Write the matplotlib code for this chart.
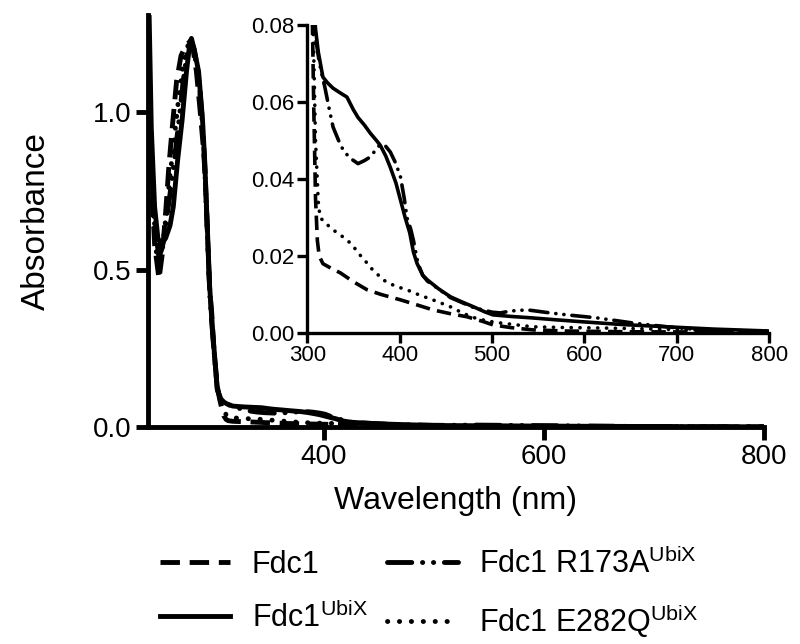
import matplotlib
matplotlib.use("Agg")
import matplotlib.pyplot as plt
import numpy as np

plt.rcParams['font.family'] = ['Liberation Sans', 'DejaVu Sans']
plt.rcParams['mathtext.fontset'] = 'custom'
plt.rcParams['mathtext.rm'] = 'Liberation Sans'
plt.rcParams['mathtext.it'] = 'Liberation Sans'

# ---------------- data ----------------
labels = ['Fdc1', r'Fdc1$^{\mathrm{UbiX}}$', r'Fdc1 R173A$^{\mathrm{UbiX}}$', r'Fdc1 E282Q$^{\mathrm{UbiX}}$']

wl_fdc1 = [240, 243, 246, 250, 253, 256, 259, 262, 266, 270, 274, 278, 281, 284, 287, 290, 292, 294, 296, 298,
           300, 303, 305, 307, 309, 311, 313, 317, 326, 336, 350, 365, 380, 401, 420, 436, 455, 473, 490, 501,
           520, 544, 580, 650, 800]
ab_fdc1 = [1.10, 0.80, 0.58, 0.47, 0.55, 0.68, 0.83, 0.95, 1.10, 1.18, 1.21, 1.225, 1.20, 1.13, 1.02, 0.90, 0.80,
           0.62, 0.44, 0.36, 0.24, 0.13, 0.09, 0.06, 0.035, 0.024, 0.020, 0.018, 0.0168, 0.0156, 0.0133, 0.0112,
           0.0100, 0.0086, 0.0072, 0.0060, 0.0050, 0.0042, 0.0030, 0.0021, 0.0014, 0.0008, 0.0005, 0.0003, 0.0002]

wl_ubix = [240, 243, 246, 249, 252, 256, 260, 263, 267, 271, 275, 278, 279.5, 282, 286, 289.5, 291.5, 294, 296,
           298, 300, 303, 306, 309, 312, 317, 322, 328, 335, 343, 350, 355, 362, 368, 375, 379, 385, 390, 396,
           401, 406, 411, 415, 419, 425, 430, 442, 455, 468, 480, 492, 501, 520, 544, 570, 598, 640, 689, 740, 800]
ab_ubix = [1.50, 0.95, 0.70, 0.60, 0.58, 0.60, 0.64, 0.70, 0.85, 0.975, 1.13, 1.22, 1.235, 1.20, 1.13, 0.98, 0.85,
           0.63, 0.45, 0.34, 0.25, 0.12, 0.09, 0.079, 0.073, 0.0665, 0.0650, 0.0636, 0.0625, 0.0613, 0.058, 0.056,
           0.054, 0.052, 0.050, 0.0488, 0.046, 0.043, 0.039, 0.0345, 0.030, 0.026, 0.021, 0.018, 0.0150, 0.0138,
           0.0115, 0.0094, 0.0080, 0.0068, 0.0055, 0.0047, 0.0043, 0.0039, 0.0034, 0.0029, 0.0022, 0.0016,
           0.0010, 0.0005]

wl_r173a = [240, 243, 246, 250, 253, 256, 260, 264, 268, 272, 276, 279, 282, 286, 289.5, 291.5, 294, 296, 298,
            300, 303, 306, 309, 312, 315, 319, 324, 328, 334, 339, 346, 355, 362, 368, 374, 379, 385, 390, 396,
            401, 405, 408, 412, 415, 420, 425, 430, 455, 480, 500, 509, 520, 538, 560, 581, 614, 652, 689, 725,
            760, 800]
ab_r173a = [1.30, 0.88, 0.64, 0.54, 0.57, 0.64, 0.74, 0.85, 0.97, 1.10, 1.20, 1.23, 1.20, 1.12, 0.97, 0.84, 0.62,
            0.44, 0.33, 0.24, 0.12, 0.088, 0.077, 0.072, 0.068, 0.064, 0.058, 0.0535, 0.050, 0.0475, 0.0455,
            0.044, 0.0448, 0.0457, 0.0475, 0.049, 0.0485, 0.047, 0.044, 0.0405, 0.035, 0.030, 0.027, 0.024,
            0.018, 0.015, 0.0135, 0.0092, 0.0066, 0.0054, 0.0052, 0.0057, 0.0060, 0.0053, 0.0047, 0.0039,
            0.0026, 0.0016, 0.0008, 0.0005, 0.0003]

wl_e282q = [240, 243, 246, 250, 253, 256, 260, 264, 268, 272, 276, 279, 282, 286, 289.5, 291.5, 294, 296, 298,
            300, 303, 306, 309, 312, 314, 320, 328, 335, 343, 350, 355, 362, 368, 375, 382, 395, 408, 422, 436,
            455, 468, 480, 495, 509, 544, 580, 615, 660, 720, 800]
ab_e282q = [1.20, 0.85, 0.60, 0.49, 0.56, 0.66, 0.80, 0.92, 1.05, 1.15, 1.21, 1.225, 1.19, 1.11, 0.96, 0.83, 0.61,
            0.43, 0.34, 0.24, 0.12, 0.085, 0.05, 0.034, 0.030, 0.0285, 0.0268, 0.0256, 0.0242, 0.0225, 0.0208,
            0.019, 0.0171, 0.0155, 0.0138, 0.0122, 0.0112, 0.0098, 0.0086, 0.0068, 0.0052, 0.0040, 0.0031,
            0.0026, 0.0016, 0.0014, 0.0013, 0.0011, 0.0008, 0.0005]

main_xticks = [400, 600, 800]
main_yticks = [0.0, 0.5, 1.0]
inset_xticks = [300, 400, 500, 600, 700, 800]
inset_yticks = [0.00, 0.02, 0.04, 0.06, 0.08]

series = [
    (wl_fdc1, ab_fdc1, dict(linestyle=(0, (4, 2)), dash_capstyle='butt')),
    (wl_ubix, ab_ubix, dict(linestyle='-')),
    (wl_r173a, ab_r173a, dict(linestyle=(0, (5, 2.2, 0.05, 2.2, 0.05, 2.2)), dash_capstyle='round')),
    (wl_e282q, ab_e282q, dict(linestyle=(0, (0.05, 2.4)), dash_capstyle='round')),
]

fig = plt.figure(figsize=(8, 6.44), dpi=100)
ax = fig.add_axes([0.185, 0.337, 0.770, 0.640])

for (x, y, st), lab in zip(series, labels):
    ax.plot(x, y, color='black', lw=3.5, label=lab, **st)

ax.set_xlim(240, 800)
ax.set_ylim(0, 1.31)
ax.set_xticks(main_xticks)
ax.set_yticks(main_yticks)
ax.set_yticklabels([f'{v:.1f}' for v in main_yticks])
ax.spines['top'].set_visible(False)
ax.spines['right'].set_visible(False)
for s in ['left', 'bottom']:
    ax.spines[s].set_linewidth(3.5)
ax.tick_params(width=3.5, length=9, labelsize=20, pad=3)
ax.set_xlabel('Wavelength (nm)', fontsize=23, labelpad=12)
ax.set_ylabel('Absorbance', fontsize=24, labelpad=29)

# inset
axi = fig.add_axes([0.384, 0.483, 0.5775, 0.478])
for (x, y, st), lab in zip(series, labels):
    axi.plot(x, y, color='black', lw=2.6, **st)
axi.set_xlim(300, 800)
axi.set_ylim(0, 0.08)
axi.set_xticks(inset_xticks)
axi.set_yticks(inset_yticks)
axi.set_yticklabels([f'{v:.2f}' for v in inset_yticks])
axi.spines['top'].set_visible(False)
axi.spines['right'].set_visible(False)
for s in ['left', 'bottom']:
    axi.spines[s].set_linewidth(2.4)
axi.tick_params(width=2.4, length=7, labelsize=16, pad=2)
axi.patch.set_alpha(0)

handles, labs = ax.get_legend_handles_labels()
leg = fig.legend(handles, labs, loc='upper left', bbox_to_anchor=(0.2, 0.149), ncol=2, frameon=False,
                 fontsize=22, handlelength=2.3, handletextpad=0.7, columnspacing=0.65, labelspacing=0.71,
                 borderpad=0, borderaxespad=0)

fig.savefig('out.png', dpi=100)
